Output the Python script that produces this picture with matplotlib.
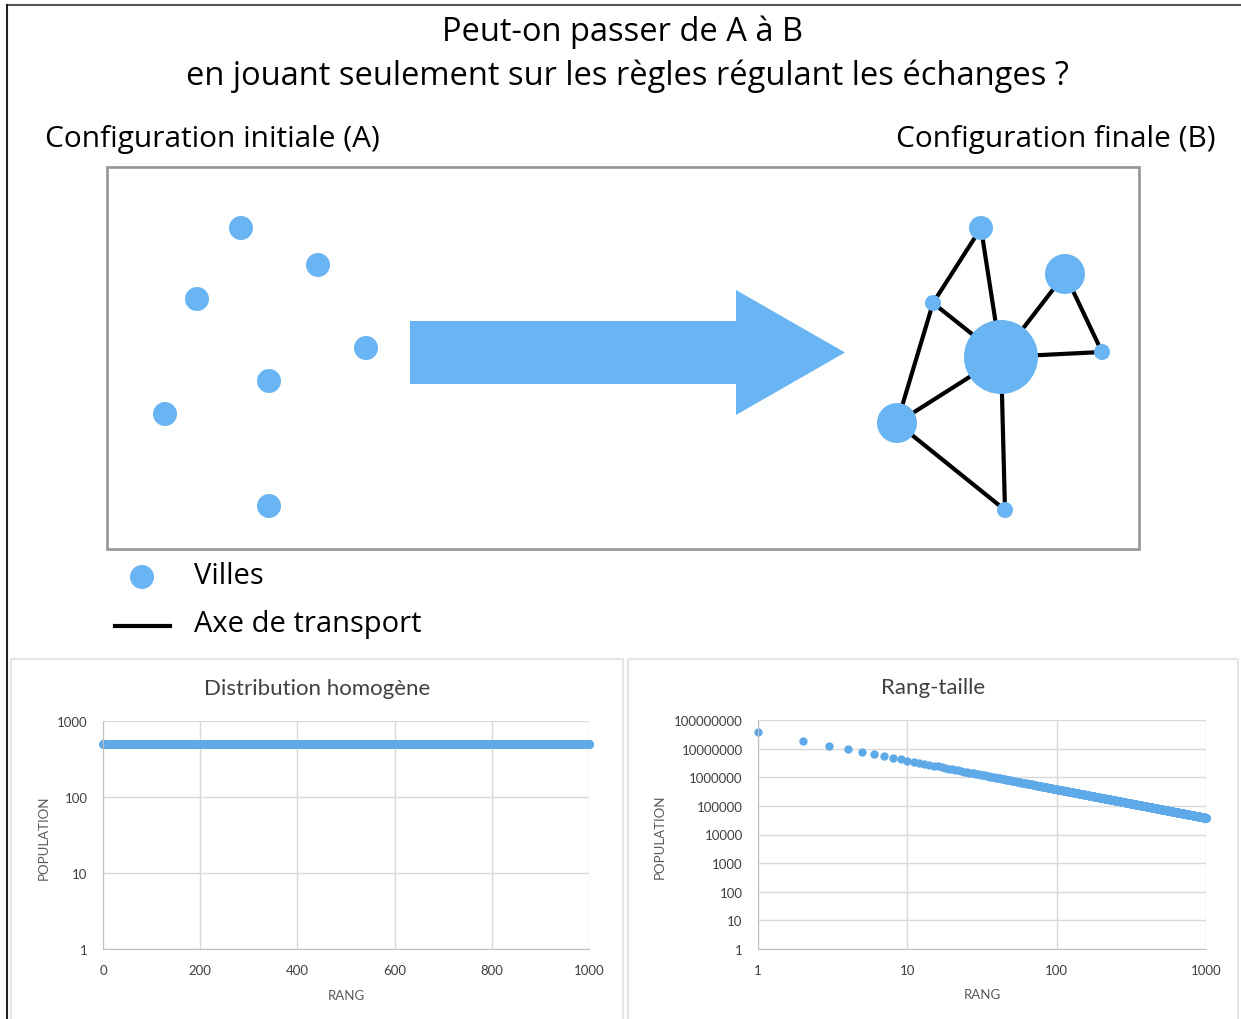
"""
Peut-on passer de A à B ? -- schema (villes / axes de transport)
plus deux distributions de population (homogene et rang-taille).
"""

import matplotlib
matplotlib.use("Agg")
import matplotlib.pyplot as plt
from matplotlib.patches import Circle, FancyArrow, Rectangle
from matplotlib.ticker import FixedLocator, FixedFormatter

# --- Schema, positions in pixels of the 1241x1020 picture ---
# configuration initiale (A): villes de meme taille, pas de liens
cities_a_x = [241, 318, 197, 366, 269, 165, 269]
cities_a_y = [229, 266, 300, 349, 382, 415, 507]

# configuration finale (B): villes hierarchisees + reseau
cities_b_x = [981, 933, 1065, 1001, 1102, 897, 1005]
cities_b_y = [229, 304, 275, 358, 353, 424, 511]
cities_b_r = [12, 8, 20, 37, 8, 20, 8]
links_b = [(0, 1), (0, 3), (1, 3), (1, 5), (2, 3),
           (2, 4), (3, 4), (3, 5), (3, 6), (5, 6)]

# --- Graphiques ---
n_cities = 1000
ranks = list(range(1, n_cities + 1))
homog_pop = [500] * n_cities                 # population constante
top_city_pop = 38_000_000                    # ville de rang 1
ranksize_pop = [top_city_pop / r for r in ranks]

homog_xticks = [0, 200, 400, 600, 800, 1000]
homog_yticks = [1, 10, 100, 1000]
rs_xticks = [1, 10, 100, 1000]
rs_yticks = [10 ** k for k in range(9)]

BLUE = "#69b4f2"
CHART_BLUE = "#5ea9e8"
GRID = "#d9d9d9"
TXT = "#595959"
W, H = 1241, 1020

fig = plt.figure(figsize=(W / 100, H / 100), dpi=100)

# full-figure layer in pixel units for the schema
bg = fig.add_axes([0, 0, 1, 1])
bg.set_xlim(0, W)
bg.set_ylim(H, 0)
bg.axis("off")

# outer frame (top and left only)
bg.plot([7, W], [6, 6], color="#555555", lw=1.5)
bg.plot([7, 7], [6, H], color="#222222", lw=1.5)

bg.text(623, 32, "Peut-on passer de A à B", ha="center", va="center",
        fontsize=23.5, family="Open Sans")
bg.text(627, 76, "en jouant seulement sur les règles régulant les échanges ?",
        ha="center", va="center", fontsize=23.5, family="Open Sans")
bg.text(45, 139, "Configuration initiale (A)", ha="left", va="center",
        fontsize=21.5, family="Open Sans")
bg.text(1216, 139, "Configuration finale (B)", ha="right", va="center",
        fontsize=21.5, family="Open Sans")

bg.add_patch(Rectangle((107, 168), 1032, 382, fill=False,
                       edgecolor="#999999", lw=2))

for x, y in zip(cities_a_x, cities_a_y):
    bg.add_patch(Circle((x, y), 12, color=BLUE, lw=0))

bg.add_patch(FancyArrow(410, 353.5, 435, 0, width=63, head_width=125,
                        head_length=109, length_includes_head=True,
                        color=BLUE, lw=0))

for i, j in links_b:
    bg.plot([cities_b_x[i], cities_b_x[j]], [cities_b_y[i], cities_b_y[j]],
            color="black", lw=3, zorder=2, solid_capstyle="butt")
for x, y, r in zip(cities_b_x, cities_b_y, cities_b_r):
    bg.add_patch(Circle((x, y), r, color=BLUE, lw=0, zorder=3))

# legend
bg.add_patch(Circle((142, 578), 12, color=BLUE, lw=0))
bg.text(194, 577, "Villes", ha="left", va="center", fontsize=21,
        family="Open Sans")
bg.plot([115, 170], [627, 627], color="black", lw=3)
bg.text(194, 625, "Axe de transport", ha="left", va="center", fontsize=21,
        family="Open Sans")

# chart panels
bg.add_patch(Rectangle((11, 660), 612, 380, fill=False, edgecolor="#e1e6e6", lw=1.5))
bg.add_patch(Rectangle((628, 660), 610, 380, fill=False, edgecolor="#e1e6e6", lw=1.5))


def style_chart(ax, title, title_xy):
    ax.set_facecolor("none")
    ax.grid(True, color=GRID, lw=1)
    ax.set_axisbelow(True)
    for side in ("top", "right"):
        ax.spines[side].set_visible(False)
    for side in ("left", "bottom"):
        ax.spines[side].set_color("#bfbfbf")
    ax.tick_params(length=0, labelsize=9.5, labelcolor="#404040", pad=11)
    ax.minorticks_off()
    for lab in ax.get_xticklabels() + ax.get_yticklabels():
        lab.set_family("Lato")
    bg.text(title_xy[0], title_xy[1], title, ha="center", va="center",
            fontsize=16, color="#404040", family="Lato")


# Distribution homogene
ax1 = fig.add_axes([103 / W, 1 - 950 / H, 486 / W, 228 / H])
ax1.plot(ranks, homog_pop, "o", ms=6.5, color=CHART_BLUE, mew=0, clip_on=False)
ax1.set_yscale("log")
ax1.set_xlim(0, 1000)
ax1.set_ylim(1, 1000)
ax1.xaxis.set_major_locator(FixedLocator(homog_xticks))
ax1.yaxis.set_major_locator(FixedLocator(homog_yticks))
ax1.yaxis.set_major_formatter(FixedFormatter([str(v) for v in homog_yticks]))
style_chart(ax1, "Distribution homogène", (317, 689))
bg.text(346, 996, "RANG", ha="center", va="center", fontsize=9.5,
        color=TXT, family="Lato")
bg.text(44, 838, "POPULATION", ha="center", va="center", fontsize=9.5,
        color=TXT, family="Lato", rotation=90)

# Rang-taille
ax2 = fig.add_axes([758 / W, 1 - 950 / H, 448 / W, 229 / H])
ax2.plot(ranks, ranksize_pop, "o", ms=6, color=CHART_BLUE, mew=0, clip_on=False)
ax2.set_xscale("log")
ax2.set_yscale("log")
ax2.set_xlim(1, 1000)
ax2.set_ylim(1, 1e8)
ax2.xaxis.set_major_locator(FixedLocator(rs_xticks))
ax2.xaxis.set_major_formatter(FixedFormatter([str(v) for v in rs_xticks]))
ax2.yaxis.set_major_locator(FixedLocator(rs_yticks))
ax2.yaxis.set_major_formatter(FixedFormatter([str(v) for v in rs_yticks]))
style_chart(ax2, "Rang-taille", (933, 688))
bg.text(982, 995, "RANG", ha="center", va="center", fontsize=9.5,
        color=TXT, family="Lato")
bg.text(660, 837, "POPULATION", ha="center", va="center", fontsize=9.5,
        color=TXT, family="Lato", rotation=90)

fig.savefig("out.png", dpi=100)
